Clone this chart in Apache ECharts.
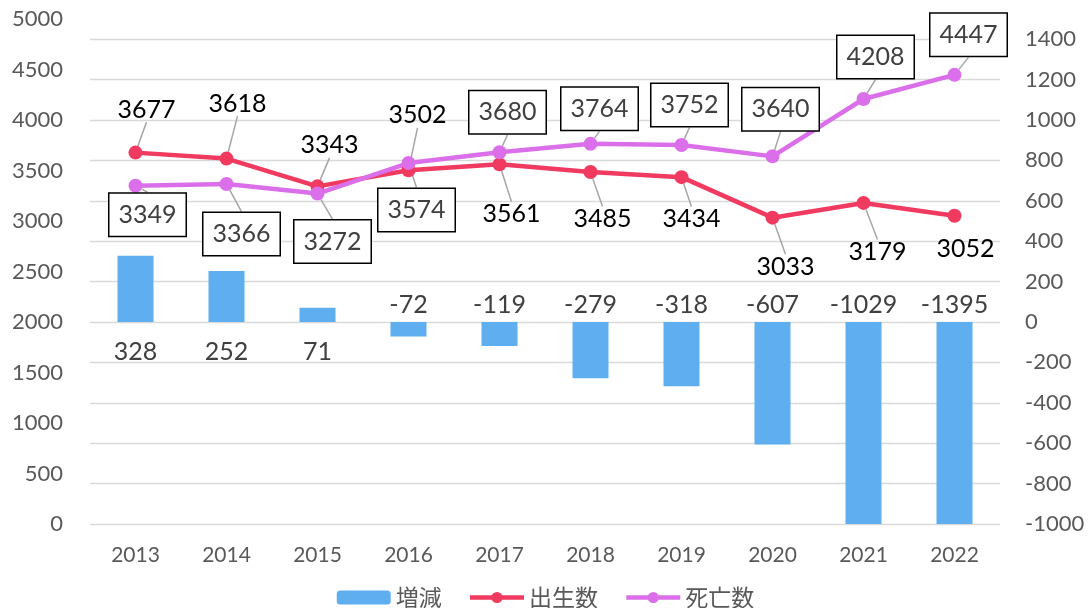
<!DOCTYPE html>
<html>
<head>
<meta charset="utf-8">
<script src="https://cdn.jsdelivr.net/npm/echarts@6/dist/echarts.min.js"></script>
<style>
	html,body{margin:0;padding:0;background:#fff;}
	#chart{width:1091px;height:608px;}
</style>
</head>
<body>
<div id="chart"></div>
<script>
var years = ['2013','2014','2015','2016','2017','2018','2019','2020','2021','2022'];
var diff = [328, 252, 71, -72, -119, -279, -318, -607, -1029, -1395];
var birth = [3677, 3618, 3343, 3502, 3561, 3485, 3434, 3033, 3179, 3052];
var death = [3349, 3366, 3272, 3574, 3680, 3764, 3752, 3640, 4208, 4447];

// label offsets from the point, as placed in the original
var birthDx = [11, 11, 12, 9, 12, 12, 10, 13, 14, 11];
var birthDy = [-43, -55, -41, -55, 50, 47, 42, 49, 49, 33];
var deathDx = [12, 15, 15, 8, 8, 9, 8, 8, 12, 14];
var deathDy = [29, 50, 48, 47, -40, -35, -40, -47, -42, -40];

var font = 'Lato, "Noto Sans CJK JP", sans-serif';
var plain = function (v) { return String(v); };
var chart = echarts.init(document.getElementById('chart'));
chart.setOption({
	textStyle: {fontFamily: font},
	animation: false,
	grid: {left: 90, right: 91, top: 19, bottom: 84},
	legend: {
		left: 'center',
		top: 581,
		itemWidth: 54,
		itemHeight: 14,
		itemGap: 26,
		lineStyle: {width: 4.5},
		textStyle: {fontSize: 23, color: '#595959', fontFamily: '"Noto Sans CJK JP", sans-serif'},
		data: ['増減', '出生数', '死亡数']
	},
	xAxis: {
		type: 'category',
		data: years,
		axisLine: {show: false},
		axisTick: {show: false},
		axisLabel: {fontSize: 21, color: '#595959', margin: 21}
	},
	yAxis: [
		{
			type: 'value',
			min: 0,
			max: 5000,
			interval: 500,
			splitLine: {show: false},
			axisLine: {show: false},
			axisTick: {show: false},
			axisLabel: {fontSize: 22, color: '#595959', margin: 27, formatter: plain}
		},
		{
			type: 'value',
			min: -1000,
			max: 1500,
			interval: 200,
			splitLine: {show: true, showMaxLine: false, lineStyle: {color: '#D9D9D9', width: 1.3}},
			axisLine: {show: false},
			axisTick: {show: false},
			axisLabel: {fontSize: 22, color: '#595959', margin: 25, align: 'left', showMaxLabel: false, formatter: plain}
		}
	],
	series: [
		{
			name: '増減',
			type: 'bar',
			yAxisIndex: 1,
			barWidth: 36,
			itemStyle: {color: '#5FAFF0'},
			data: diff.map(function (v) {
				return {
					value: v,
					label: {position: v >= 0 ? 'bottom' : 'top', distance: v >= 0 ? 17 : 5}
				};
			}),
			label: {show: true, fontSize: 25, color: '#404040'}
		},
		{
			name: '出生数',
			type: 'line',
			yAxisIndex: 0,
			symbol: 'circle',
			symbolSize: 14,
			lineStyle: {width: 4.5, color: '#F03A5F'},
			itemStyle: {color: '#F03A5F'},
			data: birth.map(function (v, i) {
				return {value: v, labelLine: {show: i !== 9}};
			}),
			label: {show: true, position: 'inside', fontSize: 25, color: '#000'},
			labelLine: {show: true, lineStyle: {color: '#A6A6A6', width: 1.5}},
			labelLayout: function (p) {
				return {dx: birthDx[p.dataIndex], dy: birthDy[p.dataIndex]};
			}
		},
		{
			name: '死亡数',
			type: 'line',
			yAxisIndex: 0,
			symbol: 'circle',
			symbolSize: 14,
			lineStyle: {width: 4.5, color: '#DB6FEA'},
			itemStyle: {color: '#DB6FEA'},
			data: death,
			label: {
				show: true,
				position: 'inside',
				fontSize: 25,
				color: '#404040',
				backgroundColor: '#fff',
				borderColor: '#000',
				borderWidth: 1.5,
				padding: [9, 9, 8, 9]
			},
			labelLine: {show: true, lineStyle: {color: '#A6A6A6', width: 1.5}},
			labelLayout: function (p) {
				return {dx: deathDx[p.dataIndex], dy: deathDy[p.dataIndex]};
			}
		}
	]
});
</script>
</body>
</html>
